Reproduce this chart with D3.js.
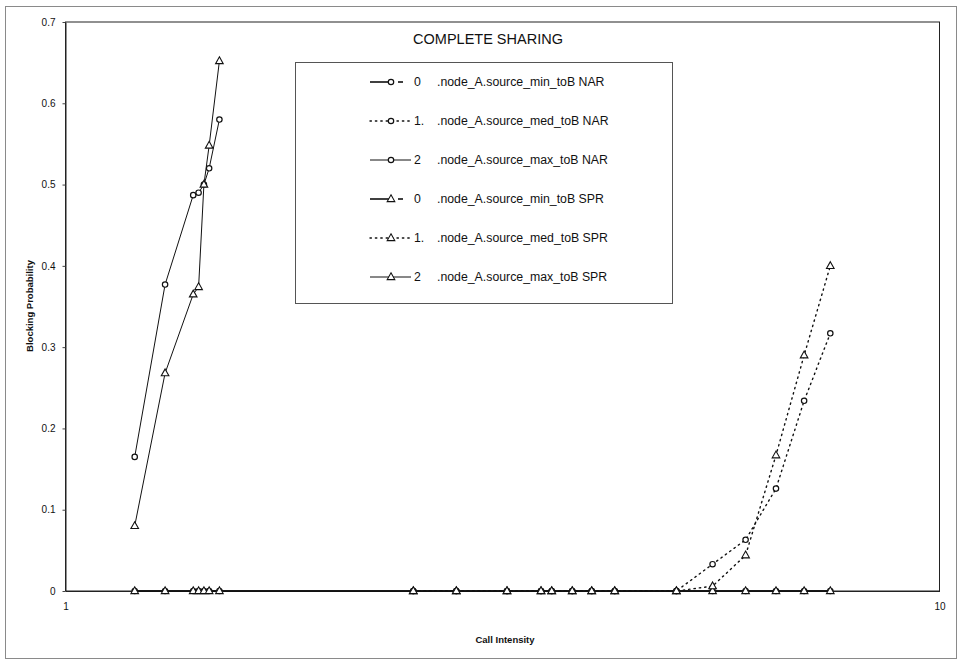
<!DOCTYPE html>
<html>
<head>
<meta charset="utf-8">
<script src="https://cdn.jsdelivr.net/npm/d3@7"></script>
<style>
  html, body { margin: 0; padding: 0; background: #ffffff; }
  svg { display: block; }
  text { font-family: "Liberation Sans", Arial, sans-serif; fill: #111; }
</style>
</head>
<body>
<div id="chart"></div>
<script>
// ---- data ----
const chartTitle = "COMPLETE SHARING";
const xTitle = "Call Intensity";
const yTitle = "Blocking Probability";

const xLow  = [1.2, 1.3, 1.4, 1.42, 1.44, 1.46, 1.5];
const xHigh = [2.5, 2.8, 3.2, 3.5, 3.6, 3.8, 4.0, 4.25, 5.0, 5.5, 6.0, 6.5, 7.0, 7.5];
const xAll  = [1.2, 1.3, 1.4, 1.42, 1.44, 1.46, 1.5, 2.5, 2.8, 3.2, 3.5, 3.6, 3.8, 4.0, 4.25, 5.0, 5.5, 6.0, 6.5, 7.0, 7.5];

const minNAR = [0, 0, 0, 0, 0, 0, 0, 0, 0, 0, 0, 0, 0, 0, 0, 0, 0, 0, 0, 0, 0];
const medNAR = [0, 0, 0, 0, 0, 0, 0, 0, 0, 0.033, 0.063, 0.126, 0.234, 0.317];
const maxNAR = [0.165, 0.377, 0.487, 0.49, 0.5, 0.52, 0.58];
const minSPR = [0, 0, 0, 0, 0, 0, 0, 0, 0, 0, 0, 0, 0, 0, 0, 0, 0, 0, 0, 0, 0];
const medSPR = [0, 0, 0, 0, 0, 0, 0, 0, 0, 0.006, 0.044, 0.167, 0.29, 0.4];
const maxSPR = [0.08, 0.268, 0.365, 0.374, 0.5, 0.548, 0.652];

const seriesTags  = ["0", "1.", "2", "0", "1.", "2"];
const seriesNames = [".node_A.source_min_toB NAR", ".node_A.source_med_toB NAR", ".node_A.source_max_toB NAR",
                     ".node_A.source_min_toB SPR", ".node_A.source_med_toB SPR", ".node_A.source_max_toB SPR"];

const yTicks = [0, 0.1, 0.2, 0.3, 0.4, 0.5, 0.6, 0.7];
const yTickLabels = ["0", "0.1", "0.2", "0.3", "0.4", "0.5", "0.6", "0.7"];
const xTicks = [1, 10];
const xTickLabels = ["1", "10"];

// ---- build series table ----
const series = [
  { name: seriesNames[0], tag: seriesTags[0], xs: xAll,  ys: minNAR, marker: "circle",   style: "min" },
  { name: seriesNames[1], tag: seriesTags[1], xs: xHigh, ys: medNAR, marker: "circle",   style: "med" },
  { name: seriesNames[2], tag: seriesTags[2], xs: xLow,  ys: maxNAR, marker: "circle",   style: "max" },
  { name: seriesNames[3], tag: seriesTags[3], xs: xAll,  ys: minSPR, marker: "triangle", style: "min" },
  { name: seriesNames[4], tag: seriesTags[4], xs: xHigh, ys: medSPR, marker: "triangle", style: "med" },
  { name: seriesNames[5], tag: seriesTags[5], xs: xLow,  ys: maxSPR, marker: "triangle", style: "max" }
];

const W = 963, H = 661;
const plot = { left: 65.5, right: 939.5, top: 22, bottom: 591 };

const svg = d3.select("#chart").append("svg").attr("width", W).attr("height", H);

// outer frame
svg.append("rect").attr("x", 5.5).attr("y", 6.5).attr("width", 951).attr("height", 652)
  .attr("fill", "none").attr("stroke", "#8a8a8a").attr("stroke-width", 1);

const x = d3.scaleLog().domain([1, 10]).range([plot.left, plot.right]);
const y = d3.scaleLinear().domain([0, 0.7]).range([plot.bottom, plot.top]);

// plot area border
svg.append("rect").attr("x", plot.left).attr("y", plot.top)
  .attr("width", plot.right - plot.left).attr("height", plot.bottom - plot.top)
  .attr("fill", "none").attr("stroke", "#222").attr("stroke-width", 1);

// axes
const yAxis = d3.axisLeft(y).tickValues(yTicks).tickFormat((d, i) => yTickLabels[i]).tickSizeInner(3).tickSizeOuter(0).tickPadding(7);
const gy = svg.append("g").attr("transform", `translate(${plot.left},0)`).call(yAxis);
gy.select(".domain").attr("stroke", "#222");
gy.selectAll(".tick line").attr("stroke", "#444");
gy.selectAll(".tick text").attr("font-size", 10).attr("fill", "#222");

const xAxis = d3.axisBottom(x).tickValues(xTicks).tickFormat((d, i) => xTickLabels[i]).tickSizeInner(0).tickSizeOuter(0).tickPadding(12);
const gx = svg.append("g").attr("transform", `translate(0,${plot.bottom})`).call(xAxis);
gx.select(".domain").attr("stroke", "#222");
gx.selectAll(".tick text").attr("font-size", 10).attr("fill", "#222");

// titles
svg.append("text").attr("x", 488).attr("y", 44)
  .attr("text-anchor", "middle").attr("font-size", 14.5).text(chartTitle);
svg.append("text").attr("x", 505).attr("y", 643).attr("text-anchor", "middle")
  .attr("font-size", 9.5).attr("font-weight", "bold").text(xTitle);
svg.append("text").attr("transform", "translate(33,306) rotate(-90)").attr("text-anchor", "middle")
  .attr("font-size", 9.5).attr("font-weight", "bold").text(yTitle);

// marker helpers
const triPath = "M0,-4.2L3.8,2.6L-3.8,2.6Z";
function drawMarker(g, kind, cx, cy) {
  if (kind === "circle") {
    g.append("circle").attr("cx", cx).attr("cy", cy).attr("r", 2.7)
      .attr("fill", "#fff").attr("stroke", "#111").attr("stroke-width", 1.2);
  } else {
    g.append("path").attr("d", triPath).attr("transform", `translate(${cx},${cy})`)
      .attr("fill", "#fff").attr("stroke", "#111").attr("stroke-width", 1.1);
  }
}
function lineStyle(sel, style) {
  sel.attr("fill", "none").attr("stroke", "#111");
  if (style === "min") sel.attr("stroke-width", 1.6);
  else if (style === "med") sel.attr("stroke-width", 1.4).attr("stroke-dasharray", "1.4,4").attr("stroke-linecap", "round");
  else sel.attr("stroke-width", 1);
}

// series lines and markers
const gLines = svg.append("g");
const line = d3.line().x(d => x(d[0])).y(d => y(d[1]));
series.forEach(s => {
  const pts = s.xs.map((v, i) => [v, s.ys[i]]);
  lineStyle(gLines.append("path").attr("d", line(pts)), s.style);
});
const gMarks = svg.append("g");
series.forEach(s => {
  s.xs.forEach((v, i) => drawMarker(gMarks, s.marker, x(v), y(s.ys[i])));
});

// legend
const lg = svg.append("g");
lg.append("rect").attr("x", 295.5).attr("y", 62.5).attr("width", 377).attr("height", 241)
  .attr("fill", "#fff").attr("stroke", "#555").attr("stroke-width", 1);
series.forEach((s, i) => {
  const cy = 82 + i * 39;
  const g = lg.append("g");
  if (s.style === "min") {
    lineStyle(g.append("line").attr("x1", 370).attr("x2", 390).attr("y1", cy).attr("y2", cy), s.style);
    lineStyle(g.append("line").attr("x1", 398).attr("x2", 403).attr("y1", cy).attr("y2", cy), s.style);
  } else {
    lineStyle(g.append("line").attr("x1", 370).attr("x2", 411).attr("y1", cy).attr("y2", cy), s.style);
  }
  drawMarker(g, s.marker, 391, cy);
  g.append("text").attr("x", 414).attr("y", cy + 4).attr("font-size", 12.3).text(s.tag);
  g.append("text").attr("x", 437).attr("y", cy + 4).attr("font-size", 12.3).text(s.name);
});
</script>
</body>
</html>
